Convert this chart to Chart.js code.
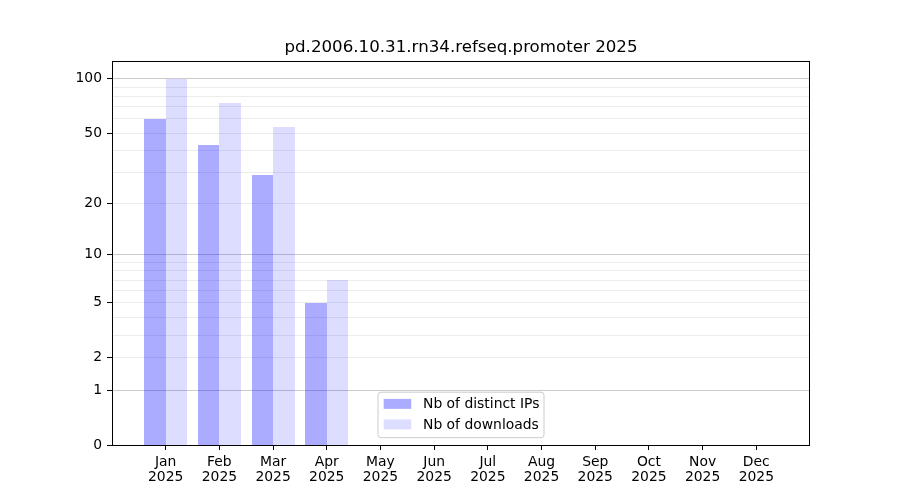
<!DOCTYPE html>
<html>
<head>
<meta charset="utf-8">
<script src="https://cdn.jsdelivr.net/npm/chart.js@4.4.1/dist/chart.umd.min.js"></script>
<style>
  html, body { margin: 0; padding: 0; background: #ffffff; }
  #wrap { width: 900px; height: 500px; }
</style>
</head>
<body>
<div id="wrap"><canvas id="c" width="900" height="500"></canvas></div>
<script>
// ---- data ----
const months = ['Jan','Feb','Mar','Apr','May','Jun','Jul','Aug','Sep','Oct','Nov','Dec'];
const yearLabel = '2025';
const distinctIPs = [60, 43, 29, 5, 0, 0, 0, 0, 0, 0, 0, 0];
const downloads  = [100, 73, 54, 7, 0, 0, 0, 0, 0, 0, 0, 0];
const labeledTicks = [0, 1, 2, 5, 10, 20, 50, 100];
const minorTicks = [3, 4, 6, 7, 8, 9, 30, 40, 60, 70, 80, 90];
const majorGridTicks = [1, 10, 100];
const titleText = 'pd.2006.10.31.rn34.refseq.promoter 2025';
const seriesNames = ['Nb of distinct IPs', 'Nb of downloads'];

const FONT = 'DejaVu Sans';

// ---- custom log(1+x) scale ----
class Log1pScale extends Chart.LinearScale {
  determineDataLimits() {
    this.min = this.options.min;
    this.max = this.options.max;
  }
  buildTicks() {
    const all = labeledTicks.concat(minorTicks).sort((a, b) => a - b);
    return all.map(v => ({ value: v }));
  }
  configure() {
    super.configure();
    this._tMin = Math.log10(1 + this.min);
    this._tMax = Math.log10(1 + this.max);
  }
  getPixelForValue(v) {
    if (v === null || v === undefined || isNaN(v)) return NaN;
    return this.getPixelForDecimal((Math.log10(1 + v) - this._tMin) / (this._tMax - this._tMin));
  }
  getValueForPixel(p) {
    const d = this.getDecimalForPixel(p);
    return Math.pow(10, this._tMin + d * (this._tMax - this._tMin)) - 1;
  }
}
Log1pScale.id = 'log1p';
Log1pScale.defaults = Chart.LinearScale.defaults;
Chart.register(Log1pScale);

// padded category axis (one empty slot each side)
const xLabels = [''].concat(months.map(m => [m, yearLabel])).concat(['']);
const pad = arr => [null].concat(arr).concat([null]);

// top of axis: 5% margin above max in transformed space
const maxVal = Math.max(...downloads, ...distinctIPs);
const yTop = Math.pow(10, Math.log10(1 + maxVal) * 1.05) - 1;

// snap bar edges to whole pixels so adjacent translucent bars have no seam
const snapPlugin = {
  id: 'snap',
  afterDatasetsUpdate(chart) {
    chart.data.datasets.forEach((d, i) => {
      chart.getDatasetMeta(i).data.forEach(el => {
        if (!el || isNaN(el.x)) return;
        const l = Math.round(el.x - el.width / 2);
        const r = Math.round(el.x + el.width / 2);
        el.x = (l + r) / 2;
        el.width = r - l;
        el.y = Math.round(el.y);
        el.base = Math.round(el.base);
      });
    });
  }
};

const framePlugin = {
  id: 'frame',
  afterDraw(chart) {
    const { ctx, chartArea: a } = chart;
    ctx.save();
    ctx.strokeStyle = '#000000';
    ctx.lineWidth = 1;
    ctx.strokeRect(Math.round(a.left) + 0.5, Math.round(a.top) + 0.5,
                   Math.round(a.right - a.left) - 1, Math.round(a.bottom - a.top));
    // legend (lower center)
    const w = 166, h = 45.5;
    const cx = (a.left + a.right) / 2;
    const x0 = cx - w / 2, y0 = a.bottom - 7.3 - h;
    const r = 3;
    ctx.beginPath();
    ctx.moveTo(x0 + r, y0);
    ctx.lineTo(x0 + w - r, y0);
    ctx.quadraticCurveTo(x0 + w, y0, x0 + w, y0 + r);
    ctx.lineTo(x0 + w, y0 + h - r);
    ctx.quadraticCurveTo(x0 + w, y0 + h, x0 + w - r, y0 + h);
    ctx.lineTo(x0 + r, y0 + h);
    ctx.quadraticCurveTo(x0, y0 + h, x0, y0 + h - r);
    ctx.lineTo(x0, y0 + r);
    ctx.quadraticCurveTo(x0, y0, x0 + r, y0);
    ctx.closePath();
    ctx.fillStyle = 'rgba(255,255,255,0.8)';
    ctx.fill();
    ctx.strokeStyle = '#cccccc';
    ctx.stroke();
    const ds = chart.data.datasets;
    ctx.font = '13.9px "' + FONT + '"';
    ctx.textBaseline = 'middle';
    ctx.textAlign = 'left';
    for (let i = 0; i < ds.length; i++) {
      const ry = y0 + 11.7 + i * 20.5;
      ctx.fillStyle = ds[i].backgroundColor;
      ctx.fillRect(x0 + 5.7, ry - 5, 27.5, 10);
      ctx.fillStyle = '#000000';
      ctx.fillText(ds[i].label, x0 + 45, ry + 0.5);
    }
    ctx.restore();
  }
};

new Chart(document.getElementById('c'), {
  type: 'bar',
  data: {
    labels: xLabels,
    datasets: [
      { label: seriesNames[0], data: pad(distinctIPs), backgroundColor: 'rgba(0,0,255,0.33)', borderWidth: 0, inflateAmount: 0 },
      { label: seriesNames[1], data: pad(downloads), backgroundColor: 'rgba(0,0,255,0.133)', borderWidth: 0, inflateAmount: 0 }
    ]
  },
  options: {
    responsive: false,
    devicePixelRatio: 1,
    animation: false,
    categoryPercentage: 0.8,
    barPercentage: 1.0,
    layout: { padding: { left: 0, right: 90, top: 0, bottom: 0 } },
    plugins: {
      legend: { display: false },
      tooltip: { enabled: false },
      title: {
        display: true,
        text: titleText,
        fullSize: false,
        color: '#000000',
        font: { family: FONT, size: 16.67, weight: 'normal', lineHeight: 1.2 },
        padding: { top: 38, bottom: 2.5 }
      }
    },
    scales: {
      x: {
        type: 'category',
        offset: false,
        grid: {
          offset: false,
          drawOnChartArea: false,
          drawTicks: true,
          tickLength: 5,
          tickWidth: 1,
          tickColor: ctx => (ctx.index === 0 || ctx.index === xLabels.length - 1) ? 'rgba(0,0,0,0)' : '#000000'
        },
        border: { display: false },
        ticks: {
          autoSkip: false,
          maxRotation: 0,
          padding: 5,
          color: '#000000',
          font: { family: FONT, size: 13.9, lineHeight: 1.08 }
        },
        afterFit: s => { s.height = 55; }
      },
      y: {
        type: 'log1p',
        min: 0,
        max: yTop,
        grid: {
          drawTicks: true,
          tickLength: 5,
          tickWidth: 1,
          lineWidth: 1,
          color: ctx => {
            const v = ctx.tick ? ctx.tick.value : null;
            if (v === 0) return 'rgba(0,0,0,0)';
            return majorGridTicks.includes(v) ? '#cbcbcb' : '#ececec';
          },
          tickColor: ctx => (ctx.tick && labeledTicks.includes(ctx.tick.value)) ? '#000000' : 'rgba(0,0,0,0)'
        },
        border: { display: false },
        ticks: {
          autoSkip: false,
          padding: 5,
          color: '#000000',
          font: { family: FONT, size: 13.9 },
          callback: v => labeledTicks.includes(v) ? String(v) : ''
        },
        afterFit: s => { s.width = 112; }
      }
    }
  },
  plugins: [snapPlugin, framePlugin]
});
</script>
</body>
</html>
